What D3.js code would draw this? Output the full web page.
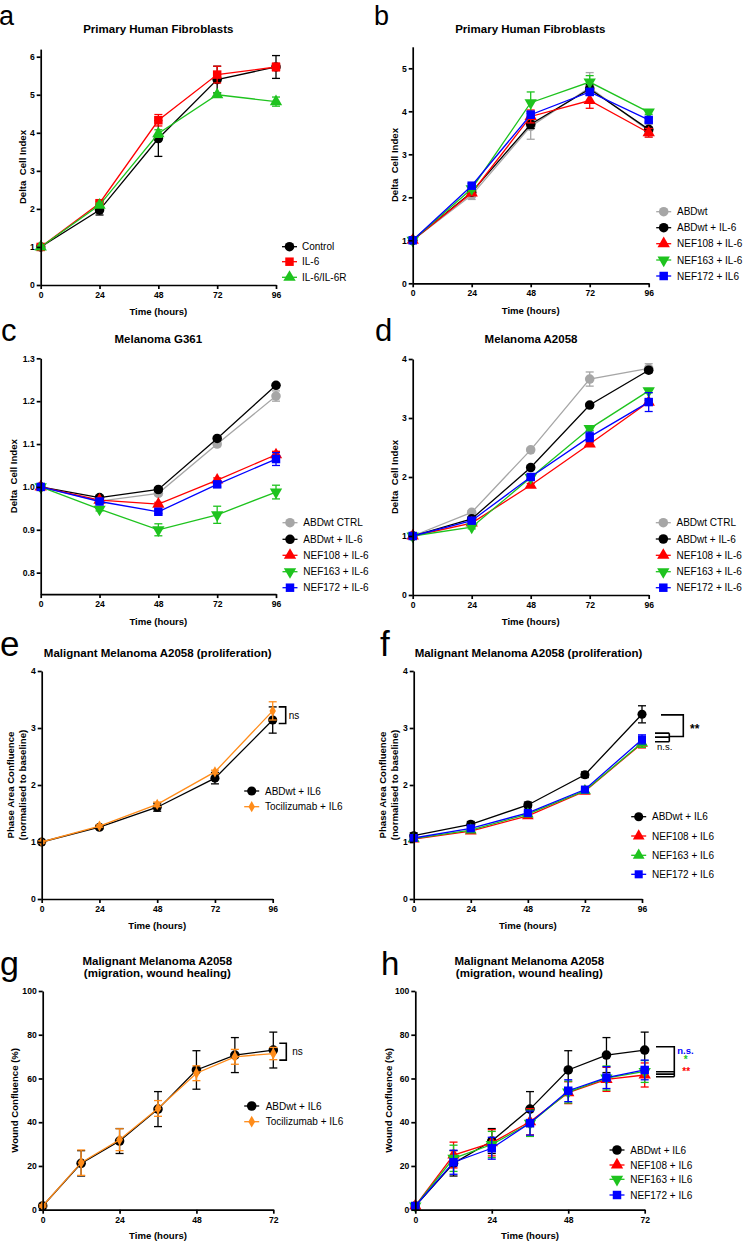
<!DOCTYPE html>
<html><head><meta charset="utf-8">
<script src="https://cdn.jsdelivr.net/npm/d3@7"></script>
<style>body{margin:0;background:#fff} svg{display:block} text{font-family:"Liberation Sans",Arial,sans-serif}</style>
</head><body><svg id="chart" width="744" height="1242"></svg>
<script>
// ---------- DATA ----------
const hours = [0,24,48,72,96];
const hoursWound = [0,12,24,36,48,60,72];
const ticks96 = [0,24,48,72,96];
const ticks72 = [0,24,48,72];

// panel a
const aLabels = ["Control","IL-6","IL-6/IL-6R"];
const aControl = [1.00,1.97,3.85,5.40,5.73];
const aControlErr = [0.02,0.13,0.47,0.35,0.30];
const aIL6 = [1.00,2.15,4.33,5.53,5.73];
const aIL6Err = [0.02,0.05,0.15,0.22,0.10];
const aIL6R = [1.00,2.10,3.98,5.00,4.82];
const aIL6RErr = [0.02,0.05,0.10,0.05,0.12];
const aYTicks = [0,1,2,3,4,5,6];

// panel b
const bLabels = ["ABDwt","ABDwt + IL-6","NEF108 + IL-6","NEF163 + IL-6","NEF172 + IL6"];
const bABDwt = [1.00,2.05,3.65,4.55,3.55];
const bABDwtErr = [0.03,0.10,0.30,0.35,0.15];
const bABDwtIL6 = [1.00,2.12,3.70,4.52,3.58];
const bABDwtIL6Err = [0.03,0.05,0.10,0.10,0.05];
const bNEF108 = [1.00,2.10,3.88,4.25,3.50];
const bNEF108Err = [0.03,0.05,0.15,0.18,0.10];
const bNEF163 = [1.00,2.20,4.20,4.68,3.98];
const bNEF163Err = [0.03,0.05,0.25,0.15,0.05];
const bNEF172 = [1.00,2.27,3.92,4.45,3.80];
const bNEF172Err = [0.03,0.05,0.08,0.08,0.05];
const bYTicks = [0,1,2,3,4,5];

// panel c
const cLabels = ["ABDwt CTRL","ABDwt + IL-6","NEF108 + IL-6","NEF163 + IL-6","NEF172 + IL-6"];
const cCTRL = [1.000,0.967,0.985,1.100,1.212];
const cCTRLErr = [0.003,0.004,0.005,0.005,0.012];
const cABDwtIL6 = [1.000,0.975,0.994,1.113,1.237];
const cABDwtIL6Err = [0.003,0.004,0.004,0.004,0.004];
const cNEF108 = [1.000,0.969,0.960,1.016,1.075];
const cNEF108Err = [0.003,0.004,0.004,0.005,0.008];
const cNEF163 = [1.000,0.948,0.900,0.935,0.988];
const cNEF163Err = [0.003,0.004,0.014,0.020,0.016];
const cNEF172 = [1.000,0.966,0.942,1.006,1.065];
const cNEF172Err = [0.003,0.004,0.004,0.006,0.015];
const cYTicks = [0.8,0.9,1.0,1.1,1.2,1.3];

// panel d
const dLabels = ["ABDwt CTRL","ABDwt + IL-6","NEF108 + IL-6","NEF163 + IL-6","NEF172 + IL-6"];
const dCTRL = [1.00,1.40,2.46,3.66,3.84];
const dCTRLErr = [0.02,0.03,0.03,0.12,0.08];
const dABDwtIL6 = [1.00,1.29,2.16,3.22,3.81];
const dABDwtIL6Err = [0.02,0.03,0.03,0.03,0.03];
const dNEF108 = [1.00,1.22,1.86,2.56,3.27];
const dNEF108Err = [0.02,0.03,0.03,0.03,0.03];
const dNEF163 = [1.00,1.15,1.99,2.82,3.46];
const dNEF163Err = [0.02,0.03,0.03,0.03,0.03];
const dNEF172 = [1.00,1.26,2.00,2.68,3.27];
const dNEF172Err = [0.02,0.03,0.03,0.08,0.16];
const dYTicks = [0,1,2,3,4];

// panel e
const eLabels = ["ABDwt + IL6","Tocilizumab + IL6"];
const eABDwt = [1.00,1.26,1.61,2.12,3.14];
const eABDwtErr = [0.02,0.03,0.07,0.10,0.23];
const eToci = [1.00,1.28,1.66,2.23,3.30];
const eTociErr = [0.02,0.02,0.04,0.03,0.16];
const eBracket = [3.37,3.08];
const eYTicks = [0,1,2,3,4];

// panel f
const fLabels = ["ABDwt + IL6","NEF108 + IL6","NEF163 + IL6","NEF172 + IL6"];
const fABDwt = [1.11,1.31,1.65,2.18,3.24];
const fABDwtErr = [0.05,0.05,0.05,0.05,0.15];
const fNEF108 = [1.05,1.19,1.46,1.89,2.73];
const fNEF108Err = [0.03,0.03,0.03,0.03,0.08];
const fNEF163 = [1.06,1.21,1.49,1.90,2.74];
const fNEF163Err = [0.03,0.03,0.03,0.03,0.08];
const fNEF172 = [1.07,1.24,1.51,1.92,2.80];
const fNEF172Err = [0.03,0.03,0.03,0.03,0.08];
const fBigBracket = [3.23,2.85];
const fSmallBracket = [2.91,2.84,2.76];
const fYTicks = [0,1,2,3,4];

// panel g
const gLabels = ["ABDwt + IL6","Tocilizumab + IL6"];
const gABDwt = [1.7,21.2,31.4,46.0,63.9,70.7,73.0];
const gABDwtErr = [0.5,5.8,5.7,8.0,8.8,8.0,8.2];
const gToci = [1.7,21.5,32.0,46.3,62.4,69.9,71.4];
const gTociErr = [0.5,5.8,5.0,3.6,3.4,3.4,2.8];
const gBracket = [76.1,68.4];
const gYTicks = [0,20,40,60,80,100];

// panel h
const hLabels = ["ABDwt + IL6","NEF108 + IL6","NEF163 + IL6","NEF172 + IL6"];
const hABDwt = [1.7,21.2,31.4,46.0,63.9,70.7,73.0];
const hABDwtErr = [0.5,5.8,5.7,8.0,8.8,8.0,8.2];
const hNEF108 = [1.7,25.0,30.6,40.2,53.5,59.6,61.6];
const hNEF108Err = [0.8,5.9,6.0,6.0,5.0,5.5,5.5];
const hNEF163 = [1.7,23.5,29.8,39.5,53.8,60.2,63.2];
const hNEF163Err = [0.8,6.0,6.0,6.0,5.0,5.5,5.0];
const hNEF172 = [1.7,21.7,28.1,39.6,54.4,60.4,63.9];
const hNEF172Err = [0.8,5.5,5.0,5.5,5.0,5.0,4.5];
const hTopBracket = 74.5;
const hSigLines = [63.1,62.0,60.8];
const hSigText = ["n.s.","*","**"];
const hYTicks = [0,20,40,60,80,100];

// ---------- STYLE ----------
const BLACK="#000000", RED="#ff0000", GREEN="#1ec31e", BLUE="#0000ff", GRAY="#a6a6a6", ORANGE="#ff8c1a";
const FONT='"Liberation Sans",Arial,sans-serif';
const svg = d3.select("#chart");

function symPath(shape,size){
  const t={circle:d3.symbolCircle,square:d3.symbolSquare,triangle:d3.symbolTriangle,down:d3.symbolTriangle,diamond:d3.symbolDiamond}[shape];
  return d3.symbol().type(t).size(size)();
}
function marker(g,shape,color,cx,cy,size){
  g.append("path").attr("d",symPath(shape,size)).attr("fill",color)
   .attr("transform",`translate(${cx},${cy})`+(shape==="down"?" rotate(180)":""));
}
const SIZES={circle:72,square:72,triangle:66,down:66,diamond:40};

function txt(g,x,y,s,opt={}){
  const t=g.append("text").attr("x",x).attr("y",y).attr("dy","0.35em").text(s)
    .attr("font-family",FONT).attr("font-size",opt.size||10).attr("fill",opt.color||"#000")
    .attr("font-weight",opt.bold?"bold":"normal").attr("text-anchor",opt.anchor||"start")
    .style("white-space","pre");
  if(opt.rotate) t.attr("transform",`rotate(-90,${x},${y})`);
  return t;
}

function panel(c){
  const g=svg.append("g");
  const x=d3.scaleLinear().domain(c.xDomain).range([c.x0,c.x1]);
  const y=d3.scaleLinear().domain(c.yDomain).range([c.yB,c.yT]);
  // series
  c.series.forEach(s=>{
    const sz=(s.size||SIZES[s.shape])*(c.mscale||1);
    const line=d3.line().x((d,i)=>x(c.xs[i])).y(d=>y(d));
    g.append("path").datum(s.v).attr("d",line).attr("fill","none").attr("stroke",s.color).attr("stroke-width",1.3);
    s.v.forEach((v,i)=>{
      const e=s.e[i], cx=x(c.xs[i]);
      if(e>0){
        const y1=y(v+e), y2=y(v-e);
        g.append("line").attr("x1",cx).attr("x2",cx).attr("y1",y1).attr("y2",y2).attr("stroke",s.color).attr("stroke-width",1.3);
        [y1,y2].forEach(yy=>g.append("line").attr("x1",cx-4).attr("x2",cx+4).attr("y1",yy).attr("y2",yy).attr("stroke",s.color).attr("stroke-width",1.3));
      }
    });
    s.v.forEach((v,i)=>marker(g,s.shape,s.color,x(c.xs[i]),y(v),sz));
  });
  // axes
  const ax=g.append("g").attr("transform",`translate(0,${c.yB})`)
    .call(d3.axisBottom(x).tickValues(c.xTicks).tickSize(4).tickSizeOuter(0).tickPadding(3).tickFormat(d3.format("d")));
  const ay=g.append("g").attr("transform",`translate(${c.x0},0)`)
    .call(d3.axisLeft(y).tickValues(c.yTicks).tickSize(4).tickSizeOuter(0).tickPadding(2).tickFormat(c.yFmt||d3.format("d")));
  [ax,ay].forEach(a=>{
    a.selectAll("path,line").attr("stroke","#000").attr("stroke-width",1.7);
    a.selectAll("text").attr("font-family",FONT).attr("font-weight","bold").attr("font-size",8.6).attr("fill","#000");
  });
  // title
  c.title.forEach((t,k)=>txt(g,c.titleX,c.titleY+k*12.7,t,{bold:true,size:11.5,anchor:"middle"}));
  // y label
  c.ylabel.forEach((t,k)=>txt(g,c.ylabelX[k],(c.yB+c.yT)/2,t,{bold:true,size:9.6,anchor:"middle",rotate:true}));
  // x label
  txt(g,(c.x0+c.x1)/2,c.yB+c.xlabelDy,"Time (hours)",{bold:true,size:9.6,anchor:"middle"});
  // panel letter
  g.append("text").attr("x",c.letterX).attr("y",c.letterY).text(c.letter)
    .attr("font-family",FONT).attr("font-size",c.letterSize).attr("fill","#000");
  // legend
  c.series.forEach((s,i)=>{
    const ry=c.legend.rows[i], mx=c.legend.mx;
    g.append("line").attr("x1",mx-7.5).attr("x2",mx+7.5).attr("y1",ry).attr("y2",ry).attr("stroke",s.color).attr("stroke-width",1.3);
    marker(g,s.shape,s.color,mx,ry,(s.size||SIZES[s.shape])*(c.mscale||1));
    txt(g,c.legend.tx,ry,s.label,{size:10});
  });
  if(c.extra) c.extra(g,x,y);
}

function bracketPath(g,pts){
  g.append("path").attr("d",pts).attr("fill","none").attr("stroke","#000").attr("stroke-width",1.6);
}

// ---------- PANELS ----------
panel({letter:"a",letterX:-1,letterY:25,letterSize:27,
  x0:40.7,x1:276,yB:285,yT:49.1,xDomain:[0,96],yDomain:[0,6.2],xs:hours,xTicks:ticks96,yTicks:aYTicks,
  title:["Primary Human Fibroblasts"],titleX:158.3,titleY:29,ylabel:["Delta  Cell Index"],ylabelX:[22.7],xlabelDy:27,
  legend:{mx:289.5,tx:302,rows:[246.7,261.7,277.3]},
  series:[
    {label:aLabels[0],color:BLACK,shape:"circle",v:aControl,e:aControlErr},
    {label:aLabels[1],color:RED,shape:"square",v:aIL6,e:aIL6Err},
    {label:aLabels[2],color:GREEN,shape:"triangle",v:aIL6R,e:aIL6RErr}]});

panel({letter:"b",letterX:374,letterY:25,letterSize:27,
  x0:412.7,x1:648.7,yB:283.3,yT:46.8,xDomain:[0,96],yDomain:[0,5.5],xs:hours,xTicks:ticks96,yTicks:bYTicks,
  title:["Primary Human Fibroblasts"],titleX:530.3,titleY:29,ylabel:["Delta  Cell Index"],ylabelX:[394.7],xlabelDy:27,
  legend:{mx:663.7,tx:677,rows:[211.7,227.7,243.7,260,276]},
  series:[
    {label:bLabels[0],color:GRAY,shape:"circle",v:bABDwt,e:bABDwtErr},
    {label:bLabels[1],color:BLACK,shape:"circle",v:bABDwtIL6,e:bABDwtIL6Err},
    {label:bLabels[2],color:RED,shape:"triangle",v:bNEF108,e:bNEF108Err},
    {label:bLabels[3],color:GREEN,shape:"down",v:bNEF163,e:bNEF163Err},
    {label:bLabels[4],color:BLUE,shape:"square",v:bNEF172,e:bNEF172Err}]});

panel({letter:"c",letterX:1,letterY:341,letterSize:31,
  x0:40.7,x1:276,yB:594.1,yT:358.3,xDomain:[0,96],yDomain:[0.75,1.3],xs:hours,xTicks:ticks96,yTicks:cYTicks,yFmt:d3.format(".1f"),
  title:["Melanoma G361"],titleX:158.3,titleY:339,ylabel:["Delta  Cell Index"],ylabelX:[13.3],xlabelDy:27.5,
  legend:{mx:290,tx:303.3,rows:[522.7,539.3,555.3,571.7,587.7]},
  series:[
    {label:cLabels[0],color:GRAY,shape:"circle",v:cCTRL,e:cCTRLErr},
    {label:cLabels[1],color:BLACK,shape:"circle",v:cABDwtIL6,e:cABDwtIL6Err},
    {label:cLabels[2],color:RED,shape:"triangle",v:cNEF108,e:cNEF108Err},
    {label:cLabels[3],color:GREEN,shape:"down",v:cNEF163,e:cNEF163Err},
    {label:cLabels[4],color:BLUE,shape:"square",v:cNEF172,e:cNEF172Err}]});

panel({letter:"d",letterX:375,letterY:341,letterSize:31,
  x0:412.7,x1:648.7,yB:595,yT:359,xDomain:[0,96],yDomain:[0,4],xs:hours,xTicks:ticks96,yTicks:dYTicks,
  title:["Melanoma A2058"],titleX:531,titleY:339,ylabel:["Delta  Cell Index"],ylabelX:[394.7],xlabelDy:27,
  legend:{mx:663.3,tx:676.5,rows:[522.7,539,555.3,571.7,587.7]},
  series:[
    {label:dLabels[0],color:GRAY,shape:"circle",v:dCTRL,e:dCTRLErr},
    {label:dLabels[1],color:BLACK,shape:"circle",v:dABDwtIL6,e:dABDwtIL6Err},
    {label:dLabels[2],color:RED,shape:"triangle",v:dNEF108,e:dNEF108Err},
    {label:dLabels[3],color:GREEN,shape:"down",v:dNEF163,e:dNEF163Err},
    {label:dLabels[4],color:BLUE,shape:"square",v:dNEF172,e:dNEF172Err}]});

panel({letter:"e",letterX:0,letterY:656,letterSize:35,
  x0:41.7,x1:272.7,yB:899,yT:671,xDomain:[0,96],yDomain:[0,4],xs:hours,xTicks:ticks96,yTicks:eYTicks,
  title:["Malignant Melanoma A2058 (proliferation)"],titleX:157.7,titleY:652.7,
  ylabel:["Phase Area Confluence","(normalised to baseline)"],ylabelX:[11,22.5],xlabelDy:27,
  legend:{mx:251.7,tx:265,rows:[791,806.7]},mscale:0.9,
  series:[
    {label:eLabels[0],color:BLACK,shape:"circle",v:eABDwt,e:eABDwtErr},
    {label:eLabels[1],color:ORANGE,shape:"diamond",v:eToci,e:eTociErr}],
  extra:(g,x,y)=>{
    const bx=x(96);
    bracketPath(g,`M${bx+6},${y(eBracket[0])}H${bx+13}V${y(eBracket[1])}H${bx+6}`);
    txt(g,bx+16,(y(eBracket[0])+y(eBracket[1]))/2,"ns",{size:10});
  }});

panel({letter:"f",letterX:380,letterY:656,letterSize:35,
  x0:413.7,x1:642,yB:899,yT:671,xDomain:[0,96],yDomain:[0,4],xs:hours,xTicks:ticks96,yTicks:fYTicks,
  title:["Malignant Melanoma A2058 (proliferation)"],titleX:528.5,titleY:652.7,
  ylabel:["Phase Area Confluence","(normalised to baseline)"],ylabelX:[383,394.5],xlabelDy:27,
  legend:{mx:638.7,tx:652,rows:[816.7,836,855.3,874.3]},mscale:0.9,
  series:[
    {label:fLabels[0],color:BLACK,shape:"circle",v:fABDwt,e:fABDwtErr},
    {label:fLabels[1],color:RED,shape:"triangle",v:fNEF108,e:fNEF108Err},
    {label:fLabels[2],color:GREEN,shape:"triangle",v:fNEF163,e:fNEF163Err},
    {label:fLabels[3],color:BLUE,shape:"square",v:fNEF172,e:fNEF172Err}],
  extra:(g,x,y)=>{
    const bx=x(96);
    bracketPath(g,`M${bx+19},${y(fBigBracket[0])}H${bx+41.3}V${y(fBigBracket[1])}H${bx+27.3}`);
    const ys=fSmallBracket.map(v=>y(v));
    bracketPath(g,ys.map(yy=>`M${bx+13},${yy}H${bx+27.3}`).join("")+`M${bx+27.3},${ys[0]}V${ys[2]}`);
    txt(g,bx+48,y(fBigBracket[0])+13.5,"**",{size:12,bold:true});
    txt(g,bx+15,ys[2]+4.5+0,"n.s.",{size:9.5});
  }});

panel({letter:"g",letterX:0,letterY:975,letterSize:34,
  x0:42.7,x1:273.3,yB:1209.7,yT:991,xDomain:[0,72],yDomain:[0,100],xs:hoursWound,xTicks:ticks72,yTicks:gYTicks,
  title:["Malignant Melanoma A2058","(migration, wound healing)"],titleX:157.3,titleY:960.7,
  ylabel:["Wound Confluence (%)"],ylabelX:[15],xlabelDy:25.8,
  legend:{mx:251.7,tx:265.7,rows:[1106,1121.7]},
  series:[
    {label:gLabels[0],color:BLACK,shape:"circle",v:gABDwt,e:gABDwtErr},
    {label:gLabels[1],color:ORANGE,shape:"diamond",v:gToci,e:gTociErr}],
  extra:(g,x,y)=>{
    const bx=x(72);
    bracketPath(g,`M${bx+6},${y(gBracket[0])}H${bx+13}V${y(gBracket[1])}H${bx+6}`);
    txt(g,bx+19,(y(gBracket[0])+y(gBracket[1]))/2,"ns",{size:10});
  }});

panel({letter:"h",letterX:381,letterY:975,letterSize:33,
  x0:415.3,x1:644.7,yB:1209.7,yT:991,xDomain:[0,72],yDomain:[0,100],xs:hoursWound,xTicks:ticks72,yTicks:hYTicks,
  title:["Malignant Melanoma A2058","(migration, wound healing)"],titleX:529.3,titleY:960.7,
  ylabel:["Wound Confluence (%)"],ylabelX:[388.7],xlabelDy:25.8,
  legend:{mx:617,tx:630.3,rows:[1150,1165,1179.3,1195]},
  series:[
    {label:hLabels[0],color:BLACK,shape:"circle",v:hABDwt,e:hABDwtErr},
    {label:hLabels[1],color:RED,shape:"triangle",v:hNEF108,e:hNEF108Err},
    {label:hLabels[2],color:GREEN,shape:"down",v:hNEF163,e:hNEF163Err},
    {label:hLabels[3],color:BLUE,shape:"square",v:hNEF172,e:hNEF172Err}],
  extra:(g,x,y)=>{
    const bx=x(72);
    const yt=y(hTopBracket), ys=hSigLines.map(v=>y(v));
    bracketPath(g,`M${bx+11.3},${yt}H${bx+29.6}V${ys[2]}`+ys.map(yy=>`M${bx+11.3},${yy}H${bx+29.6}`).join(""));
    txt(g,bx+32.6,yt+4,hSigText[0],{size:9.5,bold:true,color:BLUE});
    txt(g,bx+41,yt+12.5,hSigText[1],{size:10,bold:true,color:GREEN,anchor:"middle"});
    txt(g,bx+41.5,yt+24.5,hSigText[2],{size:10,bold:true,color:RED,anchor:"middle"});
  }});
</script></body></html>
